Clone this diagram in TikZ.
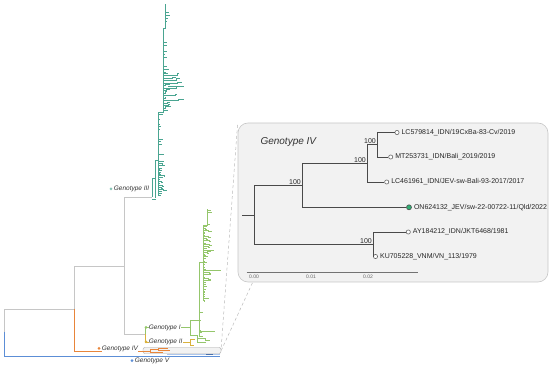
\documentclass[tikz,border=0pt]{standalone}
\usepackage{fontspec}
\setmainfont{Liberation Sans}
\usepackage{tikz}
\usetikzlibrary{positioning,calc}
\definecolor{treegrey}{HTML}{C6C6C6}
\definecolor{gthree}{HTML}{4AA591}
\definecolor{gone}{HTML}{95C66C}
\definecolor{gtwo}{HTML}{D9B13C}
\definecolor{gfour}{HTML}{E8853A}
\definecolor{gfive}{HTML}{5C8ED6}
\definecolor{insetbg}{HTML}{F2F2F2}
\definecolor{insetline}{HTML}{4A4A4A}
\definecolor{qldgreen}{HTML}{2FAF74}
\tikzset{
  tree/.style={draw=treegrey, line width=0.6pt},
  threeline/.style={draw=gthree, line width=0.45pt},
  oneline/.style={draw=gone, line width=0.45pt},
  twoline/.style={draw=gtwo, line width=0.6pt},
  fourline/.style={draw=gfour, line width=0.6pt},
  fiveline/.style={draw=gfive, line width=0.7pt},
  cdot/.style={circle, inner sep=0pt, minimum size=3pt},
  clabel/.style={font=\fontsize{6.5}{7}\selectfont\itshape, text=black!80, fill=white, inner sep=0.4pt},
  insetbox/.style={draw=black!22, fill=insetbg, rounded corners=10pt, line width=0.6pt, inner sep=0pt},
  hlbox/.style={draw=black!35, fill=black!5, rounded corners=2pt, line width=0.4pt, inner sep=0pt},
  zoomline/.style={draw=black!28, dash pattern=on 3pt off 2.5pt, line width=0.5pt},
  branch/.style={draw=insetline, line width=0.8pt},
  tip/.style={circle, draw=black!60, fill=white, line width=0.6pt, inner sep=0pt, minimum size=4.2pt},
  qldtip/.style={tip, draw=black!70, fill=qldgreen, minimum size=5pt},
  tiplabel/.style={font=\fontsize{7}{8}\selectfont, text=black!85, inner sep=0.5pt},
  boot/.style={font=\fontsize{7}{8}\selectfont, text=black!85, inner sep=1pt, anchor=south east},
  axis/.style={draw=black!55, line width=0.7pt},
  axislabel/.style={font=\fontsize{5}{6}\selectfont, text=black!60, inner sep=0pt}
}

\begin{document}
\begin{tikzpicture}[x=1pt, y=-1pt]
  \useasboundingbox (0,0) rectangle (550,366);
  \pgfmathsetseed{7}

  % backbone of the big tree
  \coordinate (root) at (4,332);
  \coordinate (n1) at (74,309);
  \coordinate (n2) at (124,266);
  \coordinate (n3) at (145,334.5);
  \coordinate (g3) at (152,197);
  \coordinate (g1) at (190,327);
  \coordinate (g2) at (190,342);
  \coordinate (g4) at (150,351.5);
  \coordinate (g5) at (220,356);

  \node[hlbox, minimum width=78pt, minimum height=6pt] (hl) at (182,350.5) {};
  \fill[gfive!50] (167,353.6) rectangle (220,355.2);
  \draw[gfive!80!black, line width=0.6pt] (206,354) -- (213,354);

  \draw[tree] (root) |- (n1);
  \draw[fiveline] (root) |- (g5);
  \draw[tree] (n1) |- (n2);
  \draw[fourline] (n1) |- (g4);
  \draw[tree] (n2) |- (g3);
  \draw[tree] (n2) |- (n3);
  \draw[oneline] (n3) |- (g1);
  \draw[twoline] (n3) |- (g2);

  % Genotype III
  \draw[threeline] (g3) -- (152,178) -| (155,160) -| (158,112) -| (163,28) -| (165,4);
  \draw[threeline] (152,199) -- (156,199);
  \draw[threeline] (155,178) -- (155,198);
  \draw[threeline] (158,160) -- (158,196);
  \foreach \y in {6,9,...,27} {\draw[threeline] (165,\y) -- ++({0.8+5*rnd^3},0);}
  \foreach \y in {30,33,...,72} {\draw[threeline] (163,\y) -- ++({0.8+6*rnd^3},0);}
  \foreach \y in {73,75.5,...,112} {\draw[threeline] (163,\y) -- ++({2+14*rnd^2},0) -- ++(0,{-2*rnd}) -- ++({1+5*rnd},0);}
  \draw[threeline] (168,86) -- (184,86);
  \foreach \y in {114,116.5,...,160} {\draw[threeline] (158,\y) -- ++({0.8+6*rnd^3},0);}
  \foreach \y in {161,163,...,196} {\draw[threeline] (158,\y) -- ++({0.5+6*rnd^2},0) -- ++(0,{1.5*rnd}) -- ++({0.5+3*rnd},0);}

  % Genotype I
  \draw[oneline] (190,320) -- (190,335);
  \draw[oneline] (190,320) -- (199,320) -- (199,262) -| (203,225) -| (207,209);
  \draw[oneline] (199,320) -- (199,337);
  \draw[oneline] (203,262) -- (203,300);
  \draw[oneline] (190,335) -- (197,335) -- (197,342) -- (206,342);
  \foreach \y in {210,212,...,224} {\draw[oneline] (207,\y) -- ++({0.5+5*rnd^3},0);}
  \foreach \y in {226,228,...,300} {\draw[oneline] (203,\y) -- ++({0.5+7*rnd^3},0) -- ++(0,{1.5*rnd}) -- ++({0.5+3*rnd},0);}
  \foreach \y in {302,304,...,336} {\draw[oneline] (199,\y) -- ++({0.5+8*rnd^3},0);}
  \draw[oneline] (203,270) -- (221,270);
  \draw[oneline] (203,250) -- (214,250);
  \draw[oneline] (199,331) -- (215,331);
  \draw[oneline] (197,338) -- (205,338) -- (205,340) -- (210,340);

  % Genotype II
  \draw[twoline] (190,339.5) -- (190,345);
  \draw[twoline] (190,339.5) -- (195,339.5);
  \draw[twoline] (190,345) -- (194,345);

  % Genotype IV
  \draw[fourline] (150,349) -- (150,352.6) -- (163,352.6);
  \draw[fourline] (150,349) -- (158,349) -- (158,348.2) -- (168,348.2);
  \draw[fourline] (158,349) -- (158,350.6) -- (170,350.6);

  % clade labels
  \node[cdot, fill=gthree!65] (dIII) at (111,189) {};
  \node[clabel, right=0.6pt of dIII] (lIII) {Genotype III};
  \node[cdot, fill=gone] (dI) at (146,327.5) {};
  \node[clabel, right=0.6pt of dI] (lI) {Genotype I};
  \node[cdot, fill=gtwo] (dII) at (146,342) {};
  \node[clabel, right=0.6pt of dII] (lII) {Genotype II};
  \node[cdot, fill=gfour] (dIV) at (99,348.5) {};
  \node[clabel, right=0.6pt of dIV] (lIV) {Genotype IV};
  \node[cdot, fill=gfive] (dV) at (132,360.7) {};
  \node[clabel, right=0.6pt of dV] (lV) {Genotype V};

  % inset
  \node[insetbox, minimum width=310pt, minimum height=159pt] (inset) at (393,202.5) {};
  \draw[zoomline] (hl.north east) -- (inset.north west);
  \draw[zoomline] (hl.east) -- ($(inset.south west)+(15,0)$);
  \node[font=\fontsize{10}{12}\selectfont\itshape, text=black!80, anchor=west] (title) at (257,142) {Genotype IV};

  \coordinate (r4) at (242,215);
  \coordinate (nA) at (254,215);
  \coordinate (nB) at (302,185.3);
  \coordinate (nC) at (367,163.3);
  \coordinate (nD) at (377,144.7);
  \coordinate (nE) at (373,244.3);

  \node[tip] (t1) at (397,132.5) {};
  \node[tip] (t2) at (390.7,157) {};
  \node[tip] (t3) at (386.7,182) {};
  \node[qldtip] (t4) at (409,207.3) {};
  \node[tip] (t5) at (408.3,232) {};
  \node[tip] (t6) at (375.5,256.5) {};

  \draw[branch] (r4) -- (nA);
  \draw[branch] (nA) |- (nB);
  \draw[branch] (nA) |- (nE);
  \draw[branch] (nB) |- (nC);
  \draw[branch] (nB) |- (t4);
  \draw[branch] (nC) |- (nD);
  \draw[branch] (nC) |- (t3);
  \draw[branch] (nD) |- (t1);
  \draw[branch] (nD) |- (t2);
  \draw[branch] (nE) |- (t5);
  \draw[branch] (nE) |- (t6);

  \node[tiplabel, right=1.5pt of t1] (l1) {LC579814\_IDN/19CxBa-83-Cv/2019};
  \node[tiplabel, right=1.5pt of t2] (l2) {MT253731\_IDN/Bali\_2019/2019};
  \node[tiplabel, right=1.5pt of t3] (l3) {LC461961\_IDN/JEV-sw-Bali-93-2017/2017};
  \node[tiplabel, right=1.5pt of t4] (l4) {ON624132\_JEV/sw-22-00722-11/Qld/2022};
  \node[tiplabel, right=1.5pt of t5] (l5) {AY184212\_IDN/JKT6468/1981};
  \node[tiplabel, right=1.5pt of t6] (l6) {KU705228\_VNM/VN\_113/1979};

  \node[boot] (bB) at (nB) {100};
  \node[boot] (bC) at (nC) {100};
  \node[boot] (bD) at (nD) {100};
  \node[boot] (bE) at (nE) {100};

  % scale
  \coordinate (ax0) at (246.7,272);
  \coordinate (ax1) at (417.7,272);
  \draw[axis] (ax0) -- (ax1);
  \foreach \x/\t/\n in {254/0.00/s0, 311/0.01/s1, 368/0.02/s2}
    \draw[axis, line width=0.5pt] (\x,272) -- ++(0,1.5) node[axislabel, below=1pt] (\n) {\t};
\end{tikzpicture}
\end{document}
